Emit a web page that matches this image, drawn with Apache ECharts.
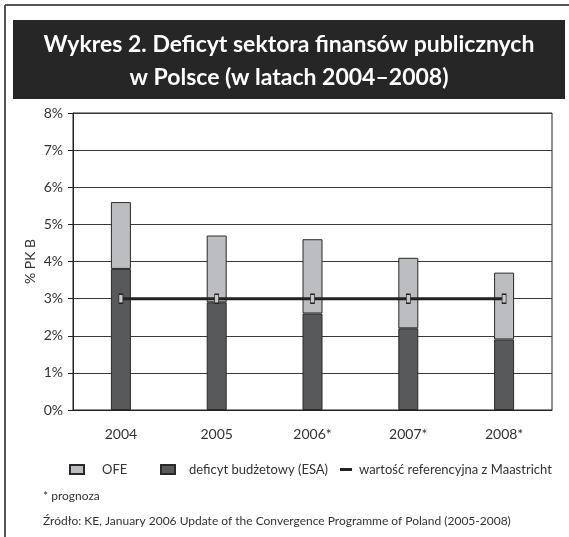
<!DOCTYPE html>
<html>
<head>
<meta charset="utf-8">
<script src="https://cdn.jsdelivr.net/npm/echarts@6/dist/echarts.min.js"></script>
<style>
  html, body { margin: 0; padding: 0; background: #fff; }
  #chart { width: 569px; height: 537px; }
</style>
</head>
<body>
<div id="chart"></div>
<script>
// data
const years = ["2004", "2005", "2006*", "2007*", "2008*"];
const deficyt = [3.8, 2.9, 2.6, 2.2, 1.9];   // deficyt budżetowy (ESA)
const ofe = [1.8, 1.8, 2.0, 1.9, 1.8];        // OFE, stacked on top
const maastricht = [3, 3, 3, 3, 3];          // wartość referencyjna
const yTicks = [0, 1, 2, 3, 4, 5, 6, 7, 8];

const FONT = "Lato, 'Open Sans', sans-serif";
const DARK = "#58595b";
const LIGHT = "#bcbdc0";

const chart = echarts.init(document.getElementById("chart"));

chart.setOption({
  animation: false,
  textStyle: { fontFamily: FONT },
  grid: {
    left: 73, right: 17, top: 113, bottom: 127,
    show: true, borderColor: "#222", borderWidth: 1
  },
  xAxis: {
    type: "category",
    data: years,
    axisLine: { lineStyle: { color: "#222", width: 1 } },
    axisTick: { length: 5, lineStyle: { color: "#222" } },
    axisLabel: { color: "#333", fontSize: 14, margin: 17, fontFamily: FONT }
  },
  yAxis: {
    type: "value",
    min: 0, max: yTicks[yTicks.length - 1], interval: 1,
    name: "% PK B",
    nameLocation: "middle",
    nameGap: 36,
    nameMoveOverlap: false,
    nameTextStyle: { color: "#333", fontSize: 14, fontFamily: FONT },
    axisLine: { show: true, lineStyle: { color: "#222", width: 1 } },
    axisTick: { show: true, length: 5, lineStyle: { color: "#222" } },
    axisLabel: { color: "#333", fontSize: 14, margin: 10, formatter: v => v + "%" },
    splitLine: { lineStyle: { color: "#3a3a3a", width: 1 } }
  },
  legend: [
    {
      left: 64, top: 458, itemWidth: 14, itemHeight: 9, icon: "rect",
      textStyle: { color: "#333", fontSize: 13, padding: [0, 0, 0, 13] },
      data: ["OFE"]
    },
    {
      left: 155, top: 458, itemWidth: 14, itemHeight: 9, icon: "rect",
      textStyle: { color: "#333", fontSize: 13, padding: [0, 0, 0, 9] },
      data: ["deficyt budżetowy (ESA)"]
    },
    {
      left: 335, top: 458, itemWidth: 12, itemHeight: 3,
      textStyle: { color: "#333", fontSize: 13, padding: [0, 0, 0, 2] },
      data: [{
        name: "wartość referencyjna z Maastricht",
        icon: "rect",
        itemStyle: { color: "#222", borderWidth: 0 }
      }]
    }
  ],
  series: [
    {
      name: "deficyt budżetowy (ESA)",
      type: "bar",
      stack: "d",
      barWidth: 20,
      data: deficyt,
      itemStyle: { color: DARK, borderColor: "#2a2a2a", borderWidth: 1 }
    },
    {
      name: "OFE",
      type: "bar",
      stack: "d",
      barWidth: 20,
      data: ofe,
      itemStyle: { color: LIGHT, borderColor: "#2a2a2a", borderWidth: 1 }
    },
    {
      name: "wartość referencyjna z Maastricht",
      type: "line",
      data: maastricht,
      symbol: "rect",
      symbolSize: [4, 9],
      showSymbol: true,
      lineStyle: { color: "#222", width: 3 },
      itemStyle: { color: "#c8c8c8", borderColor: "#222", borderWidth: 1 },
      z: 5
    }
  ],
  graphic: [
    // outer frame (left and top edges only)
    { type: "line", shape: { x1: 5, y1: 5, x2: 569, y2: 5 }, style: { stroke: "#555", lineWidth: 2 } },
    { type: "line", shape: { x1: 5, y1: 5, x2: 5, y2: 537 }, style: { stroke: "#555", lineWidth: 2 } },
    // title band
    { type: "rect", shape: { x: 13, y: 20, width: 552, height: 79 }, style: { fill: "#262626" }, z: -1 },
    {
      type: "text", x: 289, y: 45,
      style: {
        text: "Wykres 2. Deficyt sektora finansów publicznych",
        fill: "#fff", font: "bold 23px " + FONT, align: "center", verticalAlign: "middle"
      }
    },
    {
      type: "text", x: 289, y: 78,
      style: {
        text: "w Polsce (w latach 2004–2008)",
        fill: "#fff", font: "bold 23px " + FONT, align: "center", verticalAlign: "middle"
      }
    },
    {
      type: "text", left: 43, top: 490,
      style: { text: "* prognoza", fill: "#333", font: "12px " + FONT }
    },
    {
      type: "text", left: 43, top: 515,
      style: {
        text: "Źródło: KE, January 2006 Update of the Convergence Programme of Poland (2005-2008)",
        fill: "#333", font: "12px " + FONT
      }
    }
  ]
});
</script>
</body>
</html>
